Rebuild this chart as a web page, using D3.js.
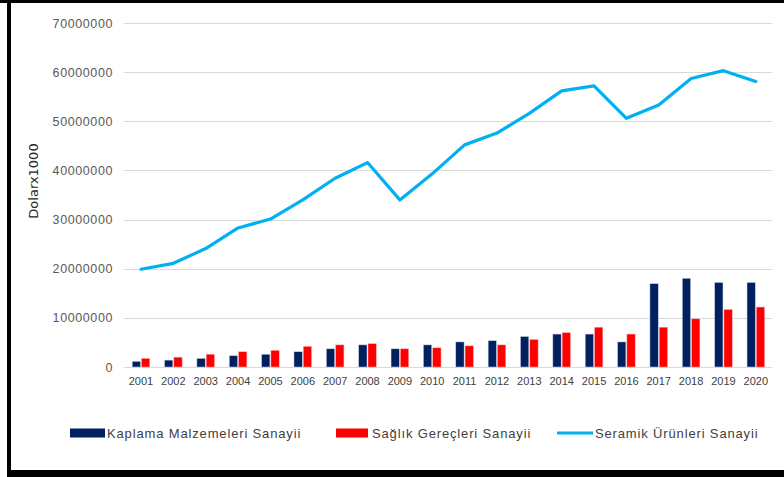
<!DOCTYPE html>
<html>
<head>
<meta charset="utf-8">
<script src="https://cdn.jsdelivr.net/npm/d3@7"></script>
<style>
  body { margin: 0; background: #fff; }
  svg text { font-family: "Liberation Sans", Arial, sans-serif; }
</style>
</head>
<body>
<svg id="chart" width="784" height="477"></svg>
<script>
// data
var years = ["2001","2002","2003","2004","2005","2006","2007","2008","2009","2010",
             "2011","2012","2013","2014","2015","2016","2017","2018","2019","2020"];
var kaplama = [1150000, 1400000, 1750000, 2300000, 2600000, 3100000, 3700000, 4500000, 3700000, 4500000,
               5100000, 5350000, 6200000, 6700000, 6700000, 5100000, 16950000, 18050000, 17200000, 17200000];
var saglik = [1750000, 2000000, 2600000, 3100000, 3400000, 4200000, 4500000, 4750000, 3700000, 3900000,
              4300000, 4500000, 5600000, 7000000, 8100000, 6700000, 8100000, 9800000, 11700000, 12200000];
var seramik = [19900000, 21100000, 24100000, 28300000, 30100000, 34000000, 38400000, 41600000, 34000000, 39300000,
               45200000, 47600000, 51600000, 56200000, 57200000, 50600000, 53300000, 58700000, 60300000, 58100000];
var yTicks = [0, 10000000, 20000000, 30000000, 40000000, 50000000, 60000000, 70000000];
var seriesNames = ["Kaplama Malzemeleri Sanayii", "Sağlık Gereçleri Sanayii", "Seramik Ürünleri Sanayii"];
var colors = ["#002060", "#ff0000", "#00b0f0"];

var svg = d3.select("#chart");

// frame (left, top, bottom)
svg.append("rect").attr("x", 0).attr("y", 0).attr("width", 784).attr("height", 3).attr("fill", "#000");
svg.append("rect").attr("x", 7).attr("y", 0).attr("width", 4).attr("height", 477).attr("fill", "#000");
svg.append("rect").attr("x", 7).attr("y", 470).attr("width", 777).attr("height", 7).attr("fill", "#000");

var x = d3.scaleBand().domain(years).range([124.8, 772]);
var y = d3.scaleLinear().domain([0, 70000000]).range([367, 23]);

// gridlines
svg.append("g")
  .selectAll("line")
  .data(yTicks)
  .enter()
  .append("line")
  .attr("x1", 124)
  .attr("x2", 772)
  .attr("y1", function(d) { return Math.round(y(d)) + 0.5; })
  .attr("y2", function(d) { return Math.round(y(d)) + 0.5; })
  .attr("stroke", "#d9d9d9")
  .attr("stroke-width", 1);

// y axis labels
var yAxis = d3.axisLeft(y).tickValues(yTicks).tickSize(0).tickPadding(0)
  .tickFormat(function(d) { return String(d); });
var gy = svg.append("g").attr("transform", "translate(113,0)").call(yAxis);
gy.select(".domain").remove();
gy.selectAll("text")
  .attr("fill", "#595959")
  .style("font-size", "12.5px")
  .style("letter-spacing", "0.6px");

// x axis labels
var xAxis = d3.axisBottom(x).tickSize(0).tickPadding(0);
var gx = svg.append("g").attr("transform", "translate(0,377)").call(xAxis);
gx.select(".domain").remove();
gx.selectAll("text")
  .attr("fill", "#404040")
  .style("font-size", "11px");

// bars
var barW = 8.3;
var bars = svg.append("g");
bars.selectAll("rect.k")
  .data(kaplama)
  .enter()
  .append("rect")
  .attr("class", "k")
  .attr("x", function(d, i) { return x(years[i]) + x.bandwidth() / 2 - barW - 0.5; })
  .attr("y", function(d) { return y(d); })
  .attr("width", barW)
  .attr("height", function(d) { return y(0) - y(d); })
  .attr("fill", colors[0])
  .attr("stroke", "#c9d0e0")
  .attr("stroke-width", 0.5);
bars.selectAll("rect.s")
  .data(saglik)
  .enter()
  .append("rect")
  .attr("class", "s")
  .attr("x", function(d, i) { return x(years[i]) + x.bandwidth() / 2 + 0.5; })
  .attr("y", function(d) { return y(d); })
  .attr("width", barW)
  .attr("height", function(d) { return y(0) - y(d); })
  .attr("fill", colors[1])
  .attr("stroke", "#ffb0b0")
  .attr("stroke-width", 0.5);

// line
var line = d3.line()
  .x(function(d, i) { return x(years[i]) + x.bandwidth() / 2; })
  .y(function(d) { return y(d); });
svg.append("path")
  .datum(seramik)
  .attr("d", line)
  .attr("fill", "none")
  .attr("stroke", colors[2])
  .attr("stroke-width", 3.2)
  .attr("stroke-linejoin", "round")
  .attr("stroke-linecap", "round");

// y axis title
svg.append("text")
  .attr("transform", "translate(38,181) rotate(-90)")
  .attr("text-anchor", "middle")
  .attr("fill", "#262626")
  .style("font-family", "DejaVu Sans")
  .style("font-size", "13px")
  .text("Dolarx1000");

// legend
var legendX = [70, 336, 557];
var legend = svg.append("g");
seriesNames.forEach(function(name, i) {
  var g = legend.append("g").attr("transform", "translate(" + legendX[i] + ",433)");
  if (i < 2) {
    g.append("rect").attr("x", 0).attr("y", -4.5).attr("width", i == 0 ? 35 : 32).attr("height", 9)
      .attr("fill", colors[i]);
  } else {
    g.append("line").attr("x1", 0).attr("x2", 36).attr("y1", 0).attr("y2", 0)
      .attr("stroke", colors[i]).attr("stroke-width", 3);
  }
  g.append("text")
    .attr("x", i == 2 ? 38 : (i == 0 ? 37 : 36))
    .attr("y", 4.5)
    .attr("fill", "#404040")
    .style("font-size", "13px")
    .style("letter-spacing", "0.85px")
    .text(name);
});
</script>
</body>
</html>
